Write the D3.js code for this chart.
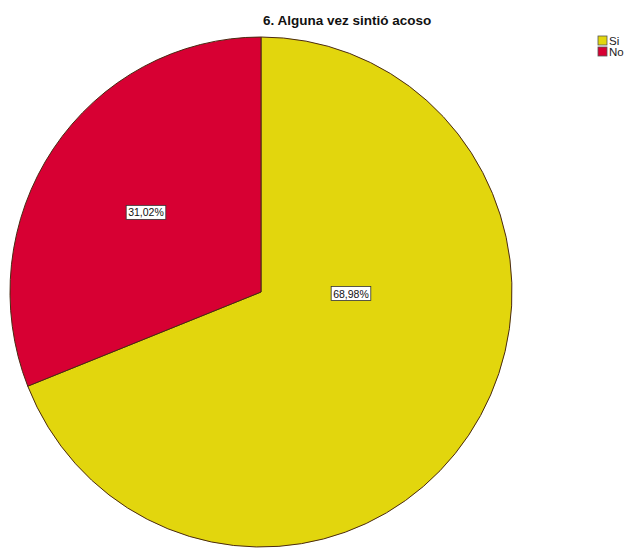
<!DOCTYPE html>
<html>
<head>
<meta charset="utf-8">
<script src="https://cdn.jsdelivr.net/npm/d3@7"></script>
<style>
  html, body { margin: 0; padding: 0; background: #ffffff; }
  svg { display: block; font-family: "Liberation Sans", Arial, sans-serif; }
</style>
</head>
<body>
<svg id="chart" width="642" height="548"></svg>
<script>
// Survey answers and their shares (percent)
const categories = ["Si", "No"];
const shares = [68.98, 31.02];
const labels = ["68,98%", "31,02%"];
const colors = ["#e2d60d", "#d70033"];
const title = "6. Alguna vez sintió acoso";

const svg = d3.select("#chart");
const cx = 261, cy = 292, rx = 251, ry = 255;

const pie = d3.pie().sort(null).value(d => d.value);
const arcs = pie(categories.map((c, i) => ({ cat: c, value: shares[i], label: labels[i], color: colors[i] })));
const arc = d3.arc().innerRadius(0).outerRadius(rx);

const g = svg.append("g").attr("transform", `translate(${cx},${cy})`);
const pieG = g.append("g").attr("transform", `scale(1,${ry / rx})`);

pieG.selectAll("path")
  .data(arcs)
  .join("path")
  .attr("d", arc)
  .attr("fill", d => d.data.color)
  .attr("stroke", "#4a2a12")
  .attr("stroke-width", 1)
  .attr("vector-effect", "non-scaling-stroke");

// Label placement: angle (radians, clockwise from top) and distance from centre
const labelPlace = [
  { angle: d => d.startAngle + (d.endAngle - d.startAngle) * 0.367, dist: 90 },
  { angle: d => d.startAngle + (d.endAngle - d.startAngle) * 0.5, dist: 139 }
];

const lab = g.selectAll("g.lab")
  .data(arcs)
  .join("g")
  .attr("class", "lab")
  .attr("transform", (d, i) => {
    const a = labelPlace[i].angle(d);
    const r = labelPlace[i].dist;
    return `translate(${r * Math.sin(a)},${-r * Math.cos(a) * ry / rx})`;
  });

lab.append("text")
  .attr("text-anchor", "middle")
  .attr("dy", "0.35em")
  .attr("font-size", 10.5)
  .attr("fill", "#111")
  .text(d => d.data.label);

lab.each(function () {
  const t = d3.select(this).select("text").node().getBBox();
  d3.select(this).insert("rect", "text")
    .attr("x", t.x - 2).attr("y", t.y - 1)
    .attr("width", t.width + 4).attr("height", t.height + 2)
    .attr("fill", "#ffffff")
    .attr("stroke", "#333")
    .attr("stroke-width", 0.8);
});

// Title
svg.append("text")
  .attr("x", 263).attr("y", 25)
  .attr("font-size", 13.5)
  .attr("font-weight", "bold")
  .attr("fill", "#111")
  .text(title);

// Legend
const legend = svg.append("g").attr("transform", "translate(598,36)");
const items = legend.selectAll("g")
  .data(categories)
  .join("g")
  .attr("transform", (d, i) => `translate(0,${i * 11})`);
items.append("rect")
  .attr("width", 9).attr("height", 9)
  .attr("fill", (d, i) => colors[i])
  .attr("stroke", "#555").attr("stroke-width", 0.8);
items.append("text")
  .attr("x", 11).attr("y", 8.5)
  .attr("font-size", 11.5)
  .attr("fill", "#222")
  .text(d => d);
</script>
</body>
</html>
